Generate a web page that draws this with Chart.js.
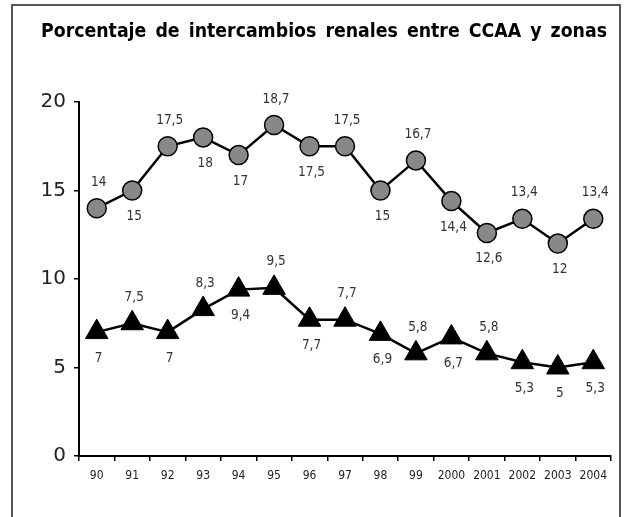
<!DOCTYPE html>
<html lang="es">
<head>
    <meta charset="UTF-8">
    <title>Intercambios renales</title>
    <script src="https://cdn.jsdelivr.net/npm/chart.js"></script>
    <style>
        body { margin: 0; background: #fff; }
        #wrap { width: 625px; height: 517px; }
    </style>
</head>
<body>
    <div id="wrap"><canvas id="chart" width="625" height="517"></canvas></div>
    <script>
        const years = ['90', '91', '92', '93', '94', '95', '96', '97', '98', '99', '2000', '2001', '2002', '2003', '2004'];
        const zonas = [14, 15, 17.5, 18, 17, 18.7, 17.5, 17.5, 15, 16.7, 14.4, 12.6, 13.4, 12, 13.4];
        const ccaa = [7, 7.5, 7, 8.3, 9.4, 9.5, 7.7, 7.7, 6.9, 5.8, 6.7, 5.8, 5.3, 5, 5.3];
        // where each value label sits: a = above, b = below
        const zonasPos = ['a', 'b', 'a', 'b', 'b', 'a', 'b', 'a', 'b', 'a', 'b', 'b', 'a', 'b', 'a'];
        const ccaaPos = ['b', 'a', 'b', 'a', 'b', 'a', 'b', 'a', 'b', 'a', 'b', 'a', 'b', 'b', 'b'];
        const yTicks = [0, 5, 10, 15, 20];
        const title = 'Porcentaje de intercambios renales entre CCAA y zonas';

        const cond = '"DejaVu Sans Condensed", "DejaVu Sans", sans-serif';

        // frame + title
        const framePlugin = {
            id: 'frame',
            beforeDraw(chart) {
                const c = chart.ctx;
                c.save();
                c.strokeStyle = '#555';
                c.lineWidth = 2;
                c.strokeRect(12, 5, 608, 530);
                c.fillStyle = '#000';
                c.font = 'bold 19px ' + cond;
                c.textAlign = 'center';
                c.textBaseline = 'middle';
                c.wordSpacing = '3px';
                const w = c.measureText(title).width;
                c.translate(324, 32);
                c.scale(566 / w, 1);
                c.fillText(title, 0, 0);
                c.restore();
            }
        };

        // value labels
        const labelPlugin = {
            id: 'vals',
            afterDatasetsDraw(chart) {
                const c = chart.ctx;
                c.save();
                c.font = '13.5px ' + cond;
                c.fillStyle = '#333';
                c.textAlign = 'center';
                c.textBaseline = 'middle';
                chart.data.datasets.forEach((ds, i) => {
                    const meta = chart.getDatasetMeta(i);
                    meta.data.forEach((pt, j) => {
                        const dy = ds.labelPos[j] === 'a' ? -26 : 26;
                        const txt = String(ds.data[j]).replace('.', ',');
                        c.fillText(txt, pt.x + 2, pt.y + dy);
                    });
                });
                c.restore();
            }
        };

        new Chart(document.getElementById('chart'), {
            type: 'line',
            data: {
                labels: years,
                datasets: [{
                    label: 'Zonas',
                    data: zonas,
                    labelPos: zonasPos,
                    borderColor: '#000',
                    borderWidth: 2.5,
                    pointStyle: 'circle',
                    pointRadius: 9.5,
                    pointBackgroundColor: '#888',
                    pointBorderColor: '#000',
                    pointBorderWidth: 1.5,
                    tension: 0
                }, {
                    label: 'CCAA',
                    data: ccaa,
                    labelPos: ccaaPos,
                    borderColor: '#000',
                    borderWidth: 2.5,
                    pointStyle: 'triangle',
                    pointRadius: 13,
                    pointBackgroundColor: '#000',
                    pointBorderColor: '#000',
                    pointBorderWidth: 1,
                    tension: 0
                }]
            },
            options: {
                responsive: false,
                animation: false,
                layout: { padding: { top: 102, right: 9, left: 0, bottom: 0 } },
                plugins: {
                    legend: { display: false },
                    tooltip: { enabled: false }
                },
                scales: {
                    x: {
                        offset: true,
                        grid: { offset: true, drawOnChartArea: false, drawTicks: true, tickLength: 5, color: '#000', lineWidth: 1.5 },
                        border: { color: '#000', width: 2 },
                        ticks: { color: '#222', font: { family: cond, size: 12 }, padding: 8, maxRotation: 0, autoSkip: false },
                        afterFit(scale) { scale.height = 61; }
                    },
                    y: {
                        min: 0,
                        max: 20,
                        afterBuildTicks(scale) { scale.ticks = yTicks.map(v => ({ value: v })); },
                        grid: { drawOnChartArea: false, drawTicks: true, tickLength: 5, color: '#000', lineWidth: 1.5 },
                        border: { color: '#000', width: 2 },
                        ticks: { color: '#222', font: { family: '"DejaVu Sans", sans-serif', size: 20 }, padding: 8 },
                        afterFit(scale) { scale.width = 79; }
                    }
                }
            },
            plugins: [framePlugin, labelPlugin]
        });
    </script>
</body>
</html>
